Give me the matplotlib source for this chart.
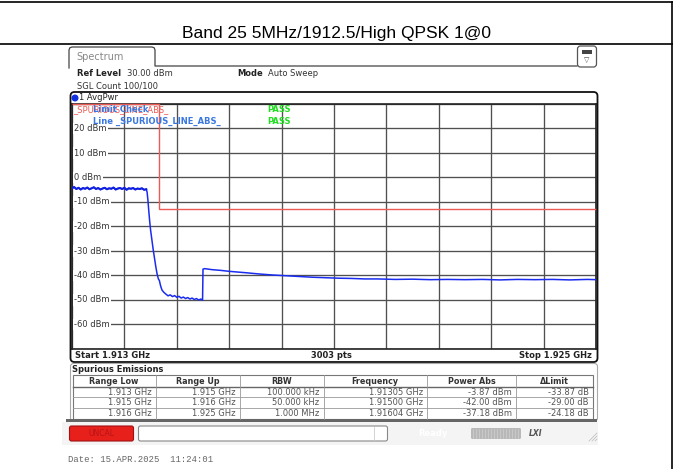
import matplotlib.pyplot as plt
import numpy as np
from matplotlib.patches import FancyBboxPatch, Rectangle, Circle

plt.rcParams['font.family'] = ['DejaVu Sans']

# ---- Sweep settings ----
start_mhz, stop_mhz = 1913.0, 1925.0
ref_level = 30
db_per_div = 10

# ---- Trace 1 AvgPwr ----
# in-band part
freq_inband = [1913.00, 1913.05, 1913.10, 1913.15, 1913.20, 1913.25, 1913.30,
               1913.35, 1913.40, 1913.45, 1913.50, 1913.55, 1913.60, 1913.65,
               1913.70, 1913.75, 1913.80, 1913.85, 1913.90, 1913.95, 1914.00,
               1914.05, 1914.10, 1914.15, 1914.20, 1914.25, 1914.30, 1914.35,
               1914.40, 1914.45, 1914.50, 1914.55, 1914.60, 1914.65, 1914.70]
lvl_inband = [-4.4, -3.9, -4.7, -4.2, -4.9, -4.3, -4.6, -4.1, -4.8, -4.4,
              -4.0, -4.7, -4.3, -4.9, -4.5, -4.2, -4.8, -4.4, -4.6, -4.1,
              -4.9, -4.5, -4.3, -4.7, -4.2, -5.0, -4.4, -4.6, -4.3, -4.9,
              -4.5, -4.7, -4.4, -5.0, -4.8]
# roll-off and 1.915-1.916 GHz range
freq_edge = [1914.72, 1914.74, 1914.76, 1914.78, 1914.80, 1914.83, 1914.86,
             1914.89, 1914.92, 1914.95, 1914.98, 1915.00, 1915.03, 1915.06,
             1915.10, 1915.15, 1915.20, 1915.25, 1915.30, 1915.35, 1915.40,
             1915.45, 1915.50, 1915.55, 1915.60, 1915.65, 1915.70, 1915.75,
             1915.80, 1915.85, 1915.90, 1915.95, 1915.99]
lvl_edge = [-6.0, -9.5, -14.0, -18.0, -21.5, -25.5, -29.5, -33.0, -36.5,
            -39.5, -41.5, -42.0, -44.3, -45.9, -46.8, -47.6, -48.3, -47.9,
            -48.6, -48.2, -48.9, -48.5, -49.2, -48.8, -49.4, -49.0, -49.6,
            -49.2, -49.8, -49.4, -50.0, -49.6, -50.1]
# 1.916-1.925 GHz range
freq_far = [1916.00, 1916.04, 1916.2, 1916.4, 1916.6, 1916.8, 1917.0, 1917.3,
            1917.6, 1917.9, 1918.2, 1918.5, 1918.8, 1919.1, 1919.4, 1919.7,
            1920.0, 1920.4, 1920.8, 1921.2, 1921.6, 1922.0, 1922.4, 1922.8,
            1923.2, 1923.6, 1924.0, 1924.4, 1924.8, 1925.0]
lvl_far = [-37.4, -37.2, -37.6, -37.9, -38.3, -38.6, -38.9, -39.4, -39.8,
           -40.1, -40.4, -40.7, -40.9, -41.1, -41.2, -41.4, -41.4, -41.6,
           -41.5, -41.7, -41.6, -41.7, -41.6, -41.8, -41.6, -41.7, -41.6,
           -41.8, -41.6, -41.7]

# ---- Spurious emissions table ----
range_edges_mhz = [1913, 1915, 1916, 1925]
range_low = ["1.913 GHz", "1.915 GHz", "1.916 GHz"]
range_up = ["1.915 GHz", "1.916 GHz", "1.925 GHz"]
rbw = ["100.000 kHz", "50.000 kHz", "1.000 MHz"]
peak_freq = ["1.91305 GHz", "1.91500 GHz", "1.91604 GHz"]
power_abs = [-3.87, -42.00, -37.18]
delta_limit = [-33.87, -29.00, -24.18]
limit_dbm = [p - d for p, d in zip(power_abs, delta_limit)]

# ---- Figure + pixel overlay ----
fig = plt.figure(figsize=(6.73, 4.69), dpi=100)
ov = fig.add_axes([0, 0, 1, 1], zorder=5)
ov.set_xlim(0, 673)
ov.set_ylim(469, 0)
ov.axis('off')

# ---- Spectrum diagram ----
ax = fig.add_axes([72 / 673, 1 - 349 / 469, 524 / 673, 245 / 469], zorder=2)
ax.set_xlim(start_mhz, stop_mhz)
ax.set_ylim(ref_level - 10 * db_per_div, ref_level)
ax.set_xticks(np.linspace(start_mhz, stop_mhz, 11))
ax.set_yticks(np.arange(ref_level - 10 * db_per_div, ref_level + 1, db_per_div))
ax.grid(True, color='#505050', lw=0.95)
ax.set_axisbelow(True)
ax.tick_params(length=0, labelbottom=False, labelleft=False)
for s in ax.spines.values():
    s.set_color('#222222')
    s.set_linewidth(1.2)

ax.plot(freq_inband + freq_edge + freq_far, lvl_inband + lvl_edge + lvl_far,
        color='#1a2cf0', lw=1.1, zorder=4)
# in-band and 1.915-1.916 part look heavier on the screen
ax.plot(freq_inband, lvl_inband, color='#1020e0', lw=1.5, zorder=4)
ax.stairs(limit_dbm, range_edges_mhz, baseline=None, color='#ec5a55',
          lw=1.0, clip_on=False, zorder=3)

for lvl in range(-60, 21, 10):
    ax.text(0.004, lvl, f"{lvl} dBm", transform=ax.get_yaxis_transform(),
            ha='left', va='center', fontsize=6, color='#333333', zorder=5,
            bbox=dict(fc='white', ec='none', pad=1.0))

# limit check labels
ov.text(73, 110, "_SPURIOUS_LINE_ABS_", color='#ec5a55', fontsize=6, va='center')
ov.text(93, 110, "Limit Check", color='#3a78e0', fontsize=6,
        fontweight='bold', va='center')
ov.text(93, 121, "Line _SPURIOUS_LINE_ABS_", color='#3a78e0', fontsize=6,
        fontweight='bold', va='center')
for yy in (110, 121):
    ov.text(267, yy, "PASS", color='#22dd22', fontsize=6,
            fontweight='bold', va='center')

# ---- Page title cell ----
ov.plot([0, 673], [2.5, 2.5], color='black', lw=1.2)
ov.plot([0, 673], [44, 44], color='black', lw=1.2)
ov.plot([672, 672], [2.5, 469], color='black', lw=1.2)
ov.text(336.5, 33.5, "Band 25 5MHz/1912.5/High QPSK 1@0", ha='center',
        va='center', fontsize=12.5, family='Liberation Sans', color='black')

# ---- Header: tab + settings ----
tab_x = [69, 69, 69.8, 72, 152, 154.2, 155, 155, 577]
tab_y = [68, 50, 47.8, 47, 47, 47.8, 50, 66, 66]
ov.plot(tab_x, tab_y, color='#444444', lw=0.9)
ov.text(76, 57, "Spectrum", fontsize=7, color='#888888', va='center')
ov.add_patch(FancyBboxPatch((577.5, 46), 19, 21,
                            boxstyle="round,pad=0,rounding_size=3",
                            fc='white', ec='#555555', lw=0.9))
ov.add_patch(Rectangle((582, 50), 10, 4, fc='#444444', ec='none'))
ov.text(587, 60, "\u25bd", fontsize=5, ha='center', va='center', color='#444444')

ov.text(77, 74, "Ref Level", fontsize=6, fontweight='bold', va='center', color='#222222')
ov.text(127, 74, "30.00 dBm", fontsize=6, va='center', color='#333333')
ov.text(237, 74, "Mode", fontsize=6, fontweight='bold', va='center', color='#222222')
ov.text(268, 74, "Auto Sweep", fontsize=6, va='center', color='#333333')
ov.text(77, 86, "SGL Count 100/100", fontsize=6, va='center', color='#333333')

# diagram frame
ov.add_patch(FancyBboxPatch((70.5, 92), 527, 270,
                            boxstyle="round,pad=0,rounding_size=4",
                            fc='none', ec='#111111', lw=1.3))
ov.add_patch(Circle((75, 98), 2.8, color='#1030e0'))
ov.text(79, 98, "1 AvgPwr", fontsize=6, va='center', color='#222222')

ov.text(75, 355.5, "Start 1.913 GHz", fontsize=6, fontweight='bold', va='center', color='#222222')
ov.text(331, 355.5, "3003 pts", fontsize=6, fontweight='bold', va='center', ha='center', color='#222222')
ov.text(592, 355.5, "Stop 1.925 GHz", fontsize=6, fontweight='bold', va='center', ha='right', color='#222222')

# ---- Spurious emissions table ----
ov.add_patch(FancyBboxPatch((70.5, 363.5), 527, 57.5,
                            boxstyle="round,pad=0,rounding_size=3",
                            fc='none', ec='#aaaaaa', lw=0.8))
ov.text(72, 369.5, "Spurious Emissions", fontsize=6, fontweight='bold',
        va='center', color='#222222')

col_x = [72.5, 155.5, 239.5, 323.5, 427, 516, 593]
row_y = [375.5, 387, 397.5, 408, 419]
headers = ["Range Low", "Range Up", "RBW", "Frequency", "Power Abs", "\u0394Limit"]
ov.add_patch(Rectangle((col_x[0], row_y[0]), col_x[-1] - col_x[0],
                       row_y[-1] - row_y[0], fc='white', ec='#777777', lw=0.8))
for yy in row_y[1:-1]:
    ov.plot([col_x[0], col_x[-1]], [yy, yy], color='#999999', lw=0.6)
ov.plot([col_x[0], col_x[-1]], [row_y[1], row_y[1]], color='#666666', lw=1.0)
for xx in col_x[1:-1]:
    ov.plot([xx, xx], [row_y[0], row_y[-1]], color='#999999', lw=0.6)
for i, h in enumerate(headers):
    ov.text((col_x[i] + col_x[i + 1]) / 2, 381.5, h, fontsize=5.8,
            fontweight='bold', ha='center', va='center', color='#333333')

rows = list(zip(range_low, range_up, rbw, peak_freq,
                [f"{p:.2f} dBm" for p in power_abs],
                [f"{d:.2f} dB" for d in delta_limit]))
for r, row in enumerate(rows):
    yc = (row_y[r + 1] + row_y[r + 2]) / 2
    for c, val in enumerate(row):
        ov.text(col_x[c + 1] - 4, yc, val, fontsize=6, ha='right',
                va='center', color='#555555')

# ---- Status bar ----
ov.add_patch(Rectangle((62, 422), 536, 23, fc='#f4f4f4', ec='none', zorder=0))
ov.add_patch(Rectangle((66, 419.5), 531, 2.5, fc='#666666', ec='none'))
ov.add_patch(FancyBboxPatch((69.5, 426), 64, 15,
                            boxstyle="round,pad=0,rounding_size=2",
                            fc='#e8201c', ec='#a01010', lw=0.8))
ov.text(101, 433.5, "UNCAL", fontsize=5.5, ha='center', va='center', color='#b51515')
ov.add_patch(FancyBboxPatch((138.5, 426), 249, 15,
                            boxstyle="round,pad=0,rounding_size=2",
                            fc='white', ec='#888888', lw=0.8))
ov.plot([374, 374], [427, 440], color='#cccccc', lw=0.6)
ov.text(418, 433.5, "Ready", fontsize=6, fontweight='bold', va='center', color='white')
ov.add_patch(FancyBboxPatch((471, 428), 50, 11,
                            boxstyle="round,pad=0,rounding_size=1.5",
                            fc='#b8b8b8', ec='none'))
for xx in np.arange(473, 520, 3):
    ov.plot([xx, xx], [429, 438], color='#d0d0d0', lw=0.5)
ov.text(529, 433.5, "LXI", fontsize=5.5, fontweight='bold', style='italic',
        va='center', color='#555555')
for k in range(3):
    ov.plot([589 + 3 * k, 597], [441, 433 + 3 * k], color='#bbbbbb', lw=0.5)

ov.text(68, 459, "Date: 15.APR.2025  11:24:01", fontsize=6.4,
        family='Liberation Mono', va='center', color='#666666')

plt.savefig("out.png", dpi=100)
